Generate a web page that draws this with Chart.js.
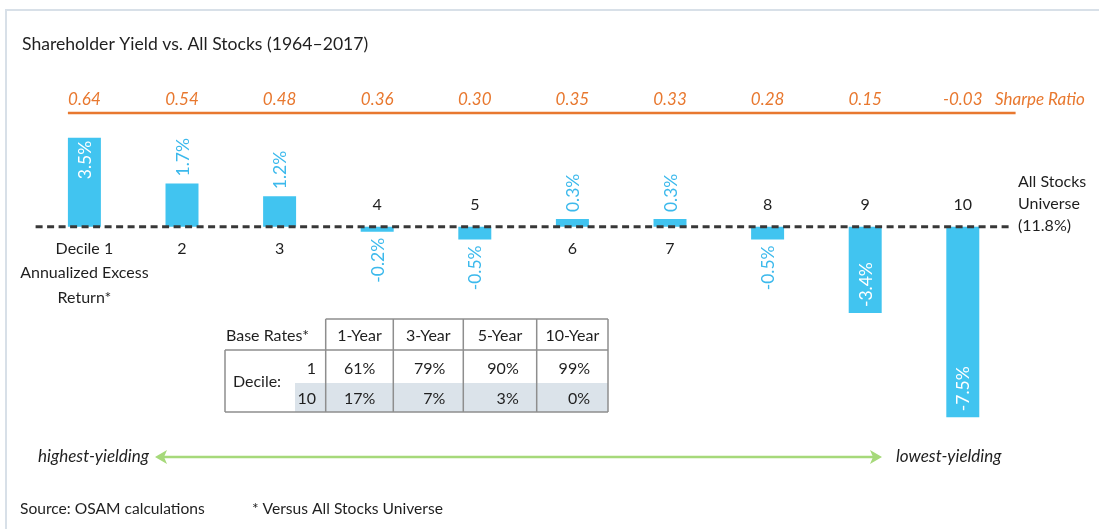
<!DOCTYPE html>
<html>
<head>
<meta charset="utf-8">
<script src="https://cdn.jsdelivr.net/npm/chart.js@4"></script>
<style>
  html, body { margin: 0; padding: 0; background: #ffffff; }
  #wrap { width: 1099px; height: 529px; position: relative; }
</style>
</head>
<body>
<div id="wrap"><canvas id="c" width="1099" height="529"></canvas></div>
<script>
// ---------------- data ----------------
const chartTitle = 'Shareholder Yield vs. All Stocks (1964\u20132017)';
const deciles = ['1', '2', '3', '4', '5', '6', '7', '8', '9', '10'];
const firstDecileLabel = ['Decile 1', 'Annualized Excess', 'Return*'];
const excessReturn = [3.5, 1.7, 1.2, -0.2, -0.5, 0.3, 0.3, -0.5, -3.4, -7.5];
const sharpeRatio = [0.64, 0.54, 0.48, 0.36, 0.30, 0.35, 0.33, 0.28, 0.15, -0.03];
const sharpeLabel = 'Sharpe Ratio';
const benchmarkLabel = ['All Stocks', 'Universe', '(11.8%)'];
const baseRateTitle = 'Base Rates*';
const baseRatePeriods = ['1-Year', '3-Year', '5-Year', '10-Year'];
const baseRateRowLabel = 'Decile:';
const baseRateDeciles = ['1', '10'];
const baseRateDecile1 = [61, 79, 90, 99];
const baseRateDecile10 = [17, 7, 3, 0];
const arrowLeftLabel = 'highest-yielding';
const arrowRightLabel = 'lowest-yielding';
const sourceNote = 'Source: OSAM calculations';
const footNote = '* Versus All Stocks Universe';

// ---------------- style ----------------
const FAMILY = 'Lato, "Open Sans", sans-serif';
const f = (size, style) => (style || 'normal') + ' normal ' + size + 'px ' + FAMILY;
const BAR = '#41c4f0';
const LABEL_BLUE = '#3cb9ec';
const ORANGE = '#e8782f';
const TEXT = '#1f1f1f';
const GREEN = '#a6d97a';

const annotations = {
  id: 'annotations',
  beforeDraw(chart) {
    const ctx = chart.ctx;
    ctx.save();
    ctx.fillStyle = '#ffffff';
    ctx.fillRect(0, 0, chart.width, chart.height);
    // frame
    ctx.strokeStyle = '#d8e0e8';
    ctx.lineWidth = 2;
    ctx.beginPath();
    ctx.moveTo(6, chart.height); ctx.lineTo(6, 10); ctx.lineTo(chart.width, 10);
    ctx.stroke();
    ctx.restore();
  },
  afterDatasetsDraw(chart) {
    const ctx = chart.ctx;
    const area = chart.chartArea;
    const ys = chart.scales.y;
    const meta = chart.getDatasetMeta(0);
    const y0 = ys.getPixelForValue(0);
    ctx.save();

    // title
    ctx.fillStyle = TEXT;
    ctx.font = f(17.6);
    ctx.textBaseline = 'middle';
    ctx.textAlign = 'left';
    ctx.fillText(chartTitle, 22, 44);

    // sharpe ratio row
    ctx.fillStyle = ORANGE;
    ctx.font = f(17, 'italic');
    ctx.textAlign = 'center';
    meta.data.forEach((el, i) => {
      ctx.fillText(sharpeRatio[i].toFixed(2), el.x, 100);
    });
    ctx.textAlign = 'left';
    ctx.fillText(sharpeLabel, 995, 100);
    const first = meta.data[0];
    ctx.strokeStyle = ORANGE;
    ctx.lineWidth = 2.5;
    ctx.beginPath();
    ctx.moveTo(first.x - first.width / 2, 113);
    ctx.lineTo(area.right + 4, 113);
    ctx.stroke();

    // zero (All Stocks) dashed line
    ctx.strokeStyle = '#383838';
    ctx.lineWidth = 3;
    ctx.setLineDash([7, 4.5]);
    ctx.beginPath();
    ctx.moveTo(area.left, y0);
    ctx.lineTo(area.right - 3, y0);
    ctx.stroke();
    ctx.setLineDash([]);

    // benchmark label
    ctx.fillStyle = TEXT;
    ctx.font = f(16);
    ctx.textAlign = 'left';
    benchmarkLabel.forEach((t, k) => ctx.fillText(t, 1018, y0 - 45 + k * 22));

    // value labels (rotated)
    ctx.font = f(17.5);
    meta.data.forEach((el, i) => {
      const v = excessReturn[i];
      const top = Math.min(el.y, el.base);
      const bottom = Math.max(el.y, el.base);
      const inside = Math.abs(v) >= 3;
      let ay, align;
      if (v >= 0) {
        if (inside) { ay = top + 3; align = 'right'; } else { ay = top - 7; align = 'left'; }
      } else {
        if (inside) { ay = bottom - 6; align = 'left'; } else { ay = bottom + 6; align = 'right'; }
      }
      ctx.save();
      ctx.translate(el.x, ay);
      ctx.rotate(-Math.PI / 2);
      ctx.fillStyle = inside ? '#ffffff' : LABEL_BLUE;
      ctx.textAlign = align;
      ctx.textBaseline = 'middle';
      ctx.fillText(v.toFixed(1) + '%', 0, 1);
      ctx.restore();
    });

    // category labels
    ctx.fillStyle = TEXT;
    ctx.font = f(16);
    ctx.textAlign = 'center';
    ctx.textBaseline = 'middle';
    meta.data.forEach((el, i) => {
      const v = excessReturn[i];
      if (i === 0) {
        firstDecileLabel.forEach((t, k) => ctx.fillText(t, el.x, y0 + 22 + k * 24.5));
      } else if (v >= 0) {
        ctx.fillText(deciles[i], el.x, y0 + 22.5);
      } else {
        ctx.fillText(deciles[i], el.x, y0 - 21.5);
      }
    });

    // base-rate table
    const tL = 225, tR = 608, tTop = 319, tHead = 350, tMid = 383, tBot = 412;
    const colX = [325.7, 393.3, 463.3, 536.7, 608];
    ctx.fillStyle = '#dbe3ea';
    ctx.fillRect(295, tMid, tR - 295, tBot - tMid);
    ctx.strokeStyle = '#8e8e8e';
    ctx.lineWidth = 1.5;
    ctx.beginPath();
    ctx.moveTo(colX[0], tTop); ctx.lineTo(tR, tTop);
    ctx.moveTo(tL, tHead); ctx.lineTo(tR, tHead);
    ctx.moveTo(tL, tBot); ctx.lineTo(tR, tBot);
    ctx.moveTo(tL, tHead); ctx.lineTo(tL, tBot);
    colX.forEach(x => { ctx.moveTo(x, tTop); ctx.lineTo(x, tBot); });
    ctx.stroke();

    ctx.fillStyle = TEXT;
    ctx.font = f(16);
    ctx.textBaseline = 'middle';
    ctx.textAlign = 'left';
    ctx.fillText(baseRateTitle, 226, (tTop + tHead) / 2 + 1);
    ctx.textAlign = 'center';
    baseRatePeriods.forEach((t, k) => ctx.fillText(t, (colX[k] + colX[k + 1]) / 2, (tTop + tHead) / 2 + 1));
    ctx.fillText(baseRateRowLabel, 257, (tHead + tBot) / 2 + 1);
    ctx.textAlign = 'right';
    ctx.fillText(baseRateDeciles[0], 316, (tHead + tMid) / 2 + 2);
    ctx.fillText(baseRateDeciles[1], 316, (tMid + tBot) / 2 + 1);
    baseRateDecile1.forEach((v, k) => ctx.fillText(v + '%', colX[k + 1] - 18, (tHead + tMid) / 2 + 2));
    baseRateDecile10.forEach((v, k) => ctx.fillText(v + '%', colX[k + 1] - 18, (tMid + tBot) / 2 + 1));

    // green double arrow
    const ay = 457, ax1 = 155, ax2 = 882;
    ctx.strokeStyle = GREEN;
    ctx.fillStyle = GREEN;
    ctx.lineWidth = 2.5;
    ctx.beginPath();
    ctx.moveTo(ax1 + 6, ay); ctx.lineTo(ax2 - 6, ay);
    ctx.stroke();
    const head = (tipX, dir) => {
      ctx.beginPath();
      ctx.moveTo(tipX, ay);
      ctx.lineTo(tipX + dir * 12, ay - 7);
      ctx.lineTo(tipX + dir * 9, ay);
      ctx.lineTo(tipX + dir * 12, ay + 7);
      ctx.closePath();
      ctx.fill();
    };
    head(ax1, 1);
    head(ax2, -1);
    ctx.fillStyle = TEXT;
    ctx.font = f(17, 'italic');
    ctx.textAlign = 'right';
    ctx.fillText(arrowLeftLabel, 149, ay);
    ctx.textAlign = 'left';
    ctx.fillText(arrowRightLabel, 896, ay);

    // notes
    ctx.font = f(15.6);
    ctx.fillText(sourceNote, 20, 509);
    ctx.fillText(footNote, 252, 509);

    ctx.restore();
  }
};

new Chart(document.getElementById('c'), {
  type: 'bar',
  data: {
    labels: deciles,
    datasets: [{
      data: excessReturn,
      backgroundColor: BAR,
      borderWidth: 0,
      barPercentage: 0.338,
      categoryPercentage: 1
    }]
  },
  options: {
    responsive: false,
    animation: false,
    devicePixelRatio: 1,
    layout: { padding: { left: 35.6, right: 87.4, top: 125.1, bottom: 99.1 } },
    plugins: { legend: { display: false }, tooltip: { enabled: false }, title: { display: false } },
    scales: {
      x: { display: false, offset: true },
      y: { display: false, min: -8, max: 4 }
    }
  },
  plugins: [annotations]
});
</script>
</body>
</html>
